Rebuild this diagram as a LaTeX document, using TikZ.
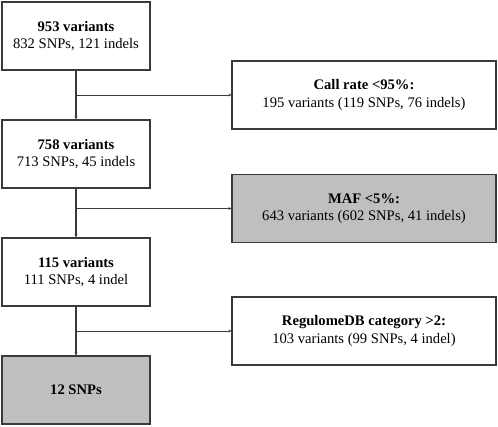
\documentclass[tikz,border=0pt]{standalone}
\usepackage{fontspec}
\setmainfont{Liberation Serif}
\usetikzlibrary{arrows.meta}
\definecolor{edgegray}{HTML}{3A3A3A}
\definecolor{boxgray}{HTML}{BFBFBF}
\begin{document}
\begin{tikzpicture}[x=1pt,y=-1pt,
  lbox/.style={draw=edgegray,line width=1.1pt,minimum width=148pt,minimum height=68pt,inner sep=0pt,align=center,font=\fontsize{14.6}{17.5}\selectfont},
  rbox/.style={draw=edgegray,line width=1.1pt,minimum width=264pt,minimum height=68pt,inner sep=0pt,align=center,font=\fontsize{14.6}{17.5}\selectfont},
  shaded/.style={fill=boxgray},
  vline/.style={draw=edgegray,line width=1.3pt,-{Stealth[length=3pt,width=3pt]}},
  hline/.style={draw=edgegray,line width=0.8pt,-{Stealth[length=3pt,width=3pt]}}]
\useasboundingbox (0,0) rectangle (498,426);
\node[lbox] (b1) at (76,36) {\textbf{953 variants}\\832 SNPs, 121 indels};
\node[lbox] (b2) at (76,154) {\textbf{758 variants}\\713 SNPs, 45 indels};
\node[lbox] (b3) at (76,272) {\textbf{115 variants}\\111 SNPs, 4 indel};
\node[lbox,shaded] (b4) at (76,390) {\textbf{12 SNPs}};
\node[rbox] (r1) at (364,95) {\textbf{Call rate <95\%:}\\195 variants (119 SNPs, 76 indels)};
\node[rbox,shaded] (r2) at (364,208.5) {\textbf{MAF <5\%:}\\643 variants (602 SNPs, 41 indels)};
\node[rbox] (r3) at (364,331) {\textbf{RegulomeDB category >2:}\\103 variants (99 SNPs, 4 indel)};
\draw[vline] (b1) -- (b2);
\draw[vline] (b2) -- (b3);
\draw[vline] (b3) -- (b4);
\coordinate (j1) at (b1.south |- r1.west);
\coordinate (j2) at (b2.south |- r2.west);
\coordinate (j3) at (b3.south |- r3.west);
\draw[hline] (j1) -- (r1.west);
\draw[hline] (j2) -- (r2.west);
\draw[hline] (j3) -- (r3.west);
\end{tikzpicture}
\end{document}
